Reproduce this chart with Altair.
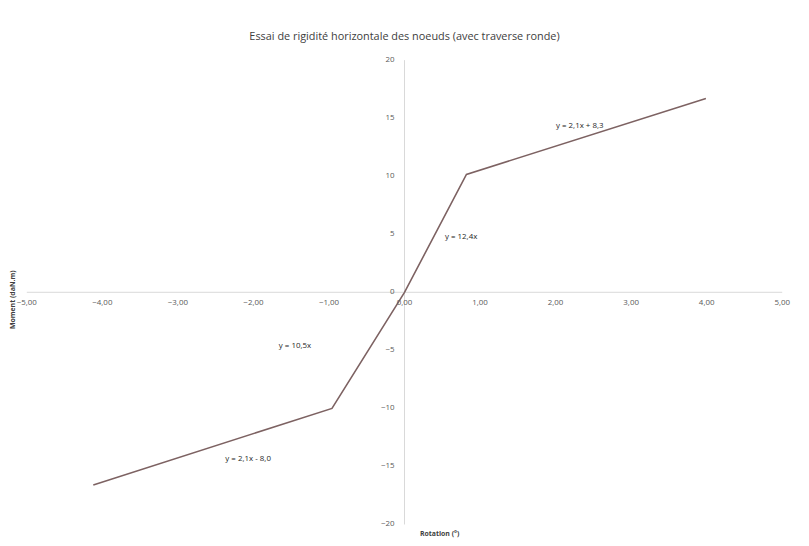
import altair as alt
import pandas as pd

rotation = [-4.12, -0.96, 0.0, 0.82, 3.99]
moment = [-16.6, -10.0, 0.0, 10.15, 16.7]

x_ticks = [-5, -4, -3, -2, -1, 0, 1, 2, 3, 4, 5]
y_ticks = [-20, -15, -10, -5, 0, 5, 10, 15, 20]

eq_text = ["y = 2,1x + 8,3", "y = 12,4x", "y = 10,5x", "y = 2,1x - 8,0"]
eq_x = [2.32, 0.75, -1.45, -2.07]
eq_y = [14.3, 4.8, -4.6, -14.4]

FONT = "Open Sans"
xs = alt.Scale(domain=[-5, 5], nice=False)
ys = alt.Scale(domain=[-20, 20], nice=False)

line_df = pd.DataFrame({"r": rotation, "m": moment})
xt_df = pd.DataFrame({"v": x_ticks, "z": [0] * len(x_ticks)})
eq_df = pd.DataFrame({"t": eq_text, "x": eq_x, "y": eq_y})

xaxis_rule = alt.Chart(pd.DataFrame({"a": [-5], "b": [5], "z": [0]})).mark_rule(
    color="#d9d9d9", strokeWidth=1
).encode(
    x=alt.X("a:Q", scale=xs, axis=None), x2="b:Q", y=alt.Y("z:Q", scale=ys, axis=None)
)
yaxis_rule = alt.Chart(pd.DataFrame({"a": [-20], "b": [20], "z": [0]})).mark_rule(
    color="#d9d9d9", strokeWidth=1
).encode(
    y=alt.Y("a:Q", scale=ys, axis=None), y2="b:Q", x=alt.X("z:Q", scale=xs, axis=None)
)

xlabels = alt.Chart(xt_df).transform_calculate(
    lab="replace(format(datum.v, '.2f'), '.', ',')"
).mark_text(font=FONT, fontSize=8, color="#595959", dy=11).encode(
    x=alt.X("v:Q", scale=xs, axis=None), y=alt.Y("z:Q", scale=ys, axis=None), text="lab:N"
)
ylabels = alt.Chart(pd.DataFrame({"v": y_ticks, "z": [0] * len(y_ticks)})).mark_text(
    font=FONT, fontSize=8, color="#595959", align="right", dx=-10
).encode(
    y=alt.Y("v:Q", scale=ys, axis=None), x=alt.X("z:Q", scale=xs, axis=None), text="v:Q"
)

line = alt.Chart(line_df).mark_line(color="#7d6262", strokeWidth=1.6).encode(
    x=alt.X("r:Q", scale=xs, axis=None), y=alt.Y("m:Q", scale=ys, axis=None)
)

eqs = alt.Chart(eq_df).mark_text(font=FONT, fontSize=8, color="#262626").encode(
    x=alt.X("x:Q", scale=xs, axis=None), y=alt.Y("y:Q", scale=ys, axis=None), text="t:N"
)

ytitle = alt.Chart(pd.DataFrame({"t": ["Moment (daN.m)"]})).mark_text(
    font=FONT, fontSize=7, fontWeight="bold", color="#404040", angle=270
).encode(x=alt.value(-14), y=alt.value(242), text="t:N")
xtitle = alt.Chart(pd.DataFrame({"t": ["Rotation (°)"]})).mark_text(
    font=FONT, fontSize=7, fontWeight="bold", color="#404040"
).encode(x=alt.value(417), y=alt.value(479), text="t:N")

chart = alt.layer(
    xaxis_rule, yaxis_rule, line, xlabels, ylabels, eqs, ytitle, xtitle
).properties(
    width=763,
    height=469,
    title=alt.TitleParams(
        "Essai de rigidité horizontale des noeuds (avec traverse ronde)",
        font=FONT, fontSize=11, fontWeight="normal", color="#404040",
        anchor="middle", offset=14,
    ),
    autosize=alt.AutoSizeParams(type="none"),
    padding={"left": 19, "top": 50, "right": 19, "bottom": 11},
).configure(background="white").configure_view(stroke=None, strokeWidth=0)

chart.save("out.html", embed_options={"renderer": "svg", "actions": False})
